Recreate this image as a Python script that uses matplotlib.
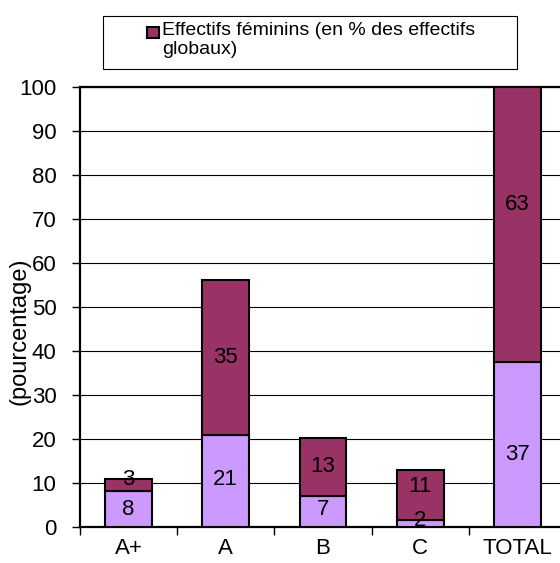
import matplotlib
matplotlib.use("Agg")
import matplotlib.pyplot as plt
from matplotlib.patches import Rectangle

plt.rcParams['font.family'] = ['Liberation Sans', 'DejaVu Sans']

# data
categories = ['A+', 'A', 'B', 'C', 'TOTAL']
hommes = [8.2, 20.8, 7.0, 1.6, 37.4]      # lower segment
femmes = [2.6, 35.3, 13.3, 11.4, 62.6]    # upper segment
legend_label = 'Effectifs féminins (en % des effectifs\nglobaux)'
ylabel = '(pourcentage)'

# label nudges (data units) so the value labels sit where the original puts them
nudge_low = [-0.2, 0.3, 0.4, 0.6, -2.3]
nudge_top = [1.4, 0.0, 0.0, 2.0, 4.5]

col_low = '#CC99FF'
col_top = '#993366'

W, H = 560, 563
fig = plt.figure(figsize=(W / 100, H / 100), dpi=100)
# axes run past the right edge, as in the reference
ax = fig.add_axes([80 / W, 1 - 527 / H, 486 / W, 440 / H])

x = list(range(len(categories)))
ax.bar(x, hommes, width=0.48, color=col_low, edgecolor='black', linewidth=1.5, zorder=3)
ax.bar(x, femmes, width=0.48, bottom=hommes, color=col_top, edgecolor='black',
       linewidth=1.5, zorder=3)

for i in x:
    ax.text(i, hommes[i] / 2 + nudge_low[i], '%d' % round(hommes[i]), ha='center',
            va='center', fontsize=16, zorder=4)
    ax.text(i, hommes[i] + femmes[i] / 2 + nudge_top[i], '%d' % round(femmes[i]),
            ha='center', va='center', fontsize=16, zorder=4)

ax.set_xlim(-0.5, len(categories) - 0.5)
ax.set_ylim(0, 100)
ax.set_yticks(range(0, 101, 10))
ax.yaxis.grid(True, color='black', linewidth=0.8)
ax.set_axisbelow(True)

ax.set_xticks(x)
ax.set_xticklabels(categories)
ax.set_xticks([i - 0.5 for i in x] + [len(x) - 0.5], minor=True)
ax.tick_params(axis='x', which='major', length=0, pad=8, labelsize=16)
ax.tick_params(axis='x', which='minor', length=6, width=1, direction='out')
ax.tick_params(axis='y', length=6, width=1, direction='out', pad=11, labelsize=16)

for s in ax.spines.values():
    s.set_linewidth(1.6)

ax.set_ylabel(ylabel, fontsize=17, va='center')
ax.yaxis.set_label_coords(-0.1255, 0.4455)

# legend box above the plot
fig.patches.append(Rectangle((103 / W, 1 - 69 / H), 414 / W, 53 / H,
                             transform=fig.transFigure, facecolor='white',
                             edgecolor='black', linewidth=0.8))
fig.patches.append(Rectangle((147 / W, 1 - 38 / H), 12 / W, 11 / H,
                             transform=fig.transFigure, facecolor=col_top,
                             edgecolor='black', linewidth=1.5))
fig.text(162 / W, 1 - 22 / H, legend_label, fontsize=14, va='top', ha='left',
         linespacing=1.15)

fig.savefig('out.png', dpi=100)
